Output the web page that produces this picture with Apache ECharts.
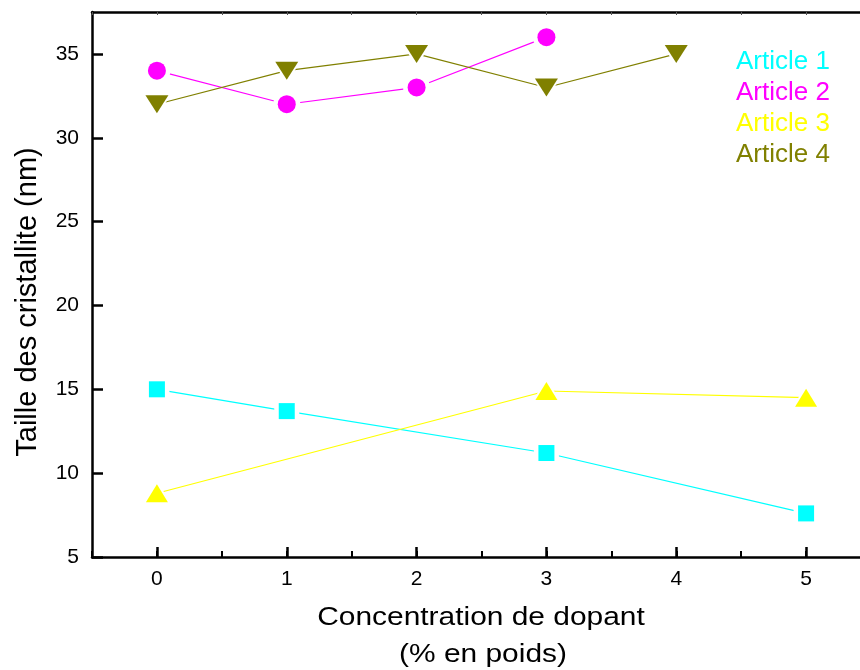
<!DOCTYPE html>
<html>
<head>
<meta charset="utf-8">
<script src="https://cdn.jsdelivr.net/npm/echarts@6/dist/echarts.min.js"></script>
<style>
html,body{margin:0;padding:0;background:#fff;}
#chart{width:860px;height:670px;}
</style>
</head>
<body>
<div id="chart"></div>
<script>
// Data
const seriesNames = ['Article 1', 'Article 2', 'Article 3', 'Article 4'];
const article1 = [[0, 15.0], [1, 13.7], [3, 11.2], [5, 7.6]];
const article2 = [[0, 34.0], [1, 32.0], [2, 33.0], [3, 36.0]];
const article3 = [[0, 8.8], [3, 14.9], [5, 14.5]];
const article4 = [[0, 32.0], [1, 34.0], [2, 35.0], [3, 33.0], [4, 35.0]];
const xTicks = [0, 1, 2, 3, 4, 5];
const yTicks = [5, 10, 15, 20, 25, 30, 35];
const xTitle1 = 'Concentration de dopant';
const xTitle2 = '(% en poids)';
const yTitle = 'Taille des cristallite (nm)';

const colors = ['#00FFFF', '#FF00FF', '#FFFF00', '#808000'];
const FONT = '"Liberation Sans", Arial, sans-serif';
const HALO = 9;

const allData = [article1, article2, article3, article4];
const symbols = [
  { symbol: 'rect', size: [16, 16], rotate: 0 },
  { symbol: 'circle', size: [18, 18], rotate: 0 },
  { symbol: 'triangle', size: [22, 18], rotate: 0 },
  { symbol: 'triangle', size: [23, 18], rotate: 180 }
];

const series = [];
allData.forEach((d, i) => {
  series.push({
    name: seriesNames[i], type: 'line', data: d, symbol: 'none',
    lineStyle: { color: colors[i], width: 1.2 }, itemStyle: { color: colors[i] },
    emphasis: { disabled: true }, z: 2, clip: false
  });
});
allData.forEach((d, i) => {
  const s = symbols[i];
  series.push({
    name: 'halo ' + (i + 1), type: 'line', data: d, symbol: s.symbol, showSymbol: true, showAllSymbol: true,
    symbolSize: [s.size[0] + HALO, s.size[1] + HALO], symbolRotate: s.rotate,
    lineStyle: { width: 0, opacity: 0 },
    itemStyle: { color: '#ffffff', opacity: 1, borderWidth: 0 }, emphasis: { disabled: true }, z: 5, silent: true, clip: false
  });
});
allData.forEach((d, i) => {
  const s = symbols[i];
  series.push({
    name: seriesNames[i], type: 'line', data: d, symbol: s.symbol, showSymbol: true, showAllSymbol: true,
    symbolSize: s.size, symbolRotate: s.rotate,
    lineStyle: { width: 0, opacity: 0 },
    itemStyle: { color: colors[i], opacity: 1, borderWidth: 0 }, emphasis: { disabled: true }, z: 6, clip: false
  });
});

const chart = echarts.init(document.getElementById('chart'), null, { renderer: 'canvas' });
chart.setOption({
  animation: false,
  backgroundColor: '#ffffff',
  color: colors,
  grid: { left: 92, right: -11, top: 12, bottom: 113, containLabel: false, outerBoundsMode: 'none' },
  legend: {
    orient: 'vertical',
    left: 726,
    top: 44,
    icon: 'none',
    itemWidth: 0,
    itemHeight: 10,
    itemGap: 5,
    selectedMode: false,
    textStyle: { fontFamily: FONT, fontSize: 26 },
    data: seriesNames.map((n, i) => ({ name: n, textStyle: { color: colors[i] } }))
  },
  xAxis: [{
    type: 'value',
    min: -0.5,
    max: 5.5,
    interval: 0.5,
    position: 'bottom',
    axisLine: { show: true, onZero: false, lineStyle: { color: '#000', width: 2.5 } },
    axisTick: { show: true, inside: true, length: 10, lineStyle: { color: '#000', width: 2.5 },
      customValues: xTicks },
    minorTick: { show: false },
    axisLabel: { fontFamily: FONT, fontSize: 21, color: '#000', margin: 12, customValues: xTicks },
    splitLine: { show: false }
  }, {
    type: 'value',
    min: -0.5,
    max: 5.5,
    interval: 0.5,
    position: 'bottom',
    axisLine: { show: false },
    axisTick: { show: true, inside: true, length: 6, lineStyle: { color: '#000', width: 2 } },
    axisLabel: { show: false },
    splitLine: { show: false }
  }, {
    type: 'value',
    min: -0.5,
    max: 5.5,
    interval: 0.5,
    position: 'top',
    axisLine: { show: true, onZero: false, lineStyle: { color: '#000', width: 2.5 } },
    axisTick: { show: true, inside: true, length: 3, lineStyle: { color: '#555', width: 1 } },
    axisLabel: { show: false },
    splitLine: { show: false }
  }],
  yAxis: {
    type: 'value',
    min: 5,
    max: 37.5,
    interval: 2.5,
    axisLine: { show: true, onZero: false, lineStyle: { color: '#000', width: 2.5 } },
    axisTick: { show: true, inside: true, length: 11, lineStyle: { color: '#000', width: 2.5 },
      customValues: yTicks },
    minorTick: { show: false },
    axisLabel: { fontFamily: FONT, fontSize: 21, color: '#000', margin: 13, customValues: yTicks },
    splitLine: { show: false }
  },
  graphic: [{
    type: 'text',
    x: 28, y: 302,
    rotation: Math.PI / 2,
    style: { text: yTitle, font: '29px ' + FONT, fill: '#000', align: 'center', verticalAlign: 'middle' }
  }, {
    type: 'text',
    x: 481, y: 618,
    scaleX: 1.15,
    style: { text: xTitle1, font: '26px ' + FONT, fill: '#000', align: 'center', verticalAlign: 'middle' }
  }, {
    type: 'text',
    x: 483, y: 655,
    scaleX: 1.15,
    style: { text: xTitle2, font: '26px ' + FONT, fill: '#000', align: 'center', verticalAlign: 'middle' }
  }],
  series: series
});
</script>
</body>
</html>
